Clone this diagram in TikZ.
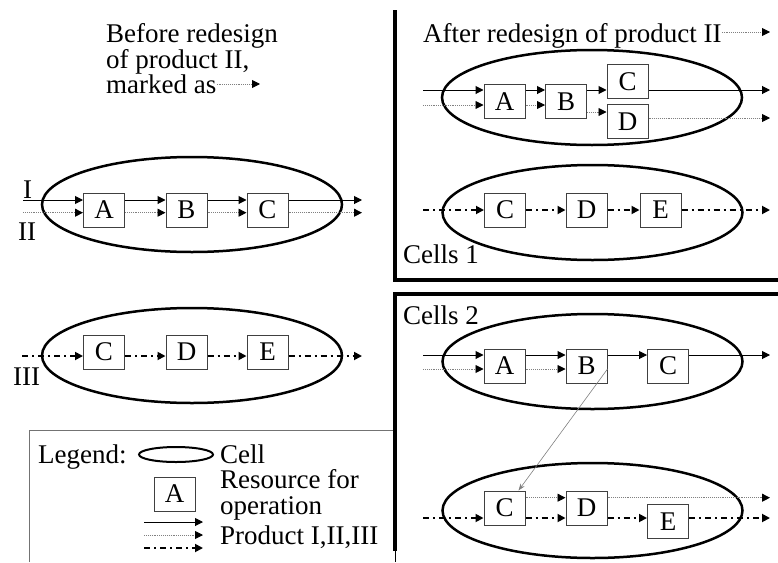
\documentclass[tikz,border=0pt]{standalone}
\usepackage{fontspec}
\setmainfont{Liberation Serif}
\usetikzlibrary{shapes.geometric, arrows.meta}
\tikzstyle{arrowI} = [line width=1pt, -{Triangle[length=8pt,width=8pt]}]
\tikzstyle{arrowII} = [line width=0.9pt, black!50, densely dotted, -{Triangle[length=8pt,width=8pt,color=black]}]
\tikzstyle{arrowIII} = [line width=1.8pt, dash pattern=on 6pt off 4pt on 2pt off 4pt, -{Triangle[length=8pt,width=8pt]}]
\tikzstyle{moveArrow} = [line width=0.6pt, black!50, -{Stealth[length=7pt,width=5pt]}]
\tikzstyle{cell} = [ellipse, draw=black, line width=2.5pt, minimum width=300pt, minimum height=95pt, inner sep=0pt]
\tikzstyle{res} = [rectangle, draw=black!75, line width=1pt, minimum width=41pt, minimum height=34pt, inner sep=0pt, fill=white]
\tikzstyle{txt} = [anchor=base west, inner sep=0pt]
\tikzstyle{frame} = [line width=4pt]

\begin{document}
\begin{tikzpicture}[x=1pt, y=-1pt, font=\fontsize{27}{27}\selectfont]
				\useasboundingbox (0,0) rectangle (778,562);

				% legend frame (under the thick lines)
				\draw [black!55, line width=1pt] (29,562) -- (29,430) -- (395,430);
				% frames of cells 1 and cells 2
				\draw [frame] (395,10) -- (395,280) -- (778,280);
				\draw [frame] (778,294) -- (395,294) -- (395,551);
				\draw [line width=1pt] (395,551) -- (395,562);

				% before redesign
				\node (before1) [txt] at (106,42) {Before redesign};
				\node (before2) [txt] at (106,68) {of product II,};
				\node (before3) [txt] at (106,93) {marked as};
				\coordinate (markTip) at (260,84);
				\draw [arrowII] (before3.east |- markTip) -- (markTip);

				\node (cellB1) [cell] at (192,204.5) {};
				\node (a1) [res] at (104,210) {A};
				\node (b1) [res] at (186.5,210) {B};
				\node (c1) [res] at (267.5,210) {C};
				\node (labI) [txt] at (23,198) {I};
				\node (labII) [txt] at (18,240) {II};
				\coordinate (inI1) at (23,200);
				\coordinate (outI1) at (362,200);
				\coordinate (inII1) at (23,212.7);
				\coordinate (outII1) at (362,212.7);
				\draw [arrowI] (inI1) -- (inI1 -| a1.west);
				\draw [arrowI] (inI1 -| a1.east) -- (inI1 -| b1.west);
				\draw [arrowI] (inI1 -| b1.east) -- (inI1 -| c1.west);
				\draw [arrowI] (inI1 -| c1.east) -- (outI1);
				\draw [arrowII] (inII1) -- (inII1 -| a1.west);
				\draw [arrowII] (inII1 -| a1.east) -- (inII1 -| b1.west);
				\draw [arrowII] (inII1 -| b1.east) -- (inII1 -| c1.west);
				\draw [arrowII] (inII1 -| c1.east) -- (outII1);

				\node (cellB2) [cell] at (192,355.5) {};
				\node (c2) [res] at (104,352) {C};
				\node (d2) [res] at (186.5,352) {D};
				\node (e2) [res] at (267.5,352) {E};
				\node (labIII) [txt] at (13,385) {III};
				\coordinate (inIII2) at (22,356);
				\coordinate (outIII2) at (362,356);
				\draw [arrowIII] (inIII2) -- (inIII2 -| c2.west);
				\draw [arrowIII] (inIII2 -| c2.east) -- (inIII2 -| d2.west);
				\draw [arrowIII] (inIII2 -| d2.east) -- (inIII2 -| e2.west);
				\draw [arrowIII] (inIII2 -| e2.east) -- (outIII2);

				% after redesign, cells 1
				\node (after) [txt] at (423,42) {After redesign of product II};
				\coordinate (afterTip) at (770,32);
				\draw [arrowII] (after.east |- afterTip) -- (afterTip);

				\node (cellA1) [cell] at (592,97.5) {};
				\node (a3) [res] at (504.5,101.5) {A};
				\node (b3) [res] at (566,101.5) {B};
				\node (c3) [res] at (627.5,81.5) {C};
				\node (d3) [res] at (627.5,121.5) {D};
				\coordinate (inI3) at (423,90);
				\coordinate (outI3) at (770,90);
				\coordinate (inII3) at (423,105);
				\coordinate (midII3) at (600,112);
				\coordinate (outII3) at (770,118);
				\draw [arrowI] (inI3) -- (inI3 -| a3.west);
				\draw [arrowI] (inI3 -| a3.east) -- (inI3 -| b3.west);
				\draw [arrowI] (inI3 -| b3.east) -- (inI3 -| c3.west);
				\draw [arrowI] (inI3 -| c3.east) -- (outI3);
				\draw [arrowII] (inII3) -- (inII3 -| a3.west);
				\draw [arrowII] (inII3 -| a3.east) -- (inII3 -| b3.west);
				\draw [arrowII] (midII3 -| b3.east) -- (midII3 -| d3.west);
				\draw [arrowII] (outII3 -| d3.east) -- (outII3);

				\node (cellA2) [cell] at (592.5,212.5) {};
				\node (c4) [res] at (505,210) {C};
				\node (d4) [res] at (586.5,210) {D};
				\node (e4) [res] at (660.5,210) {E};
				\coordinate (inIII4) at (423,210);
				\coordinate (outIII4) at (770,210);
				\draw [arrowIII] (inIII4) -- (inIII4 -| c4.west);
				\draw [arrowIII] (inIII4 -| c4.east) -- (inIII4 -| d4.west);
				\draw [arrowIII] (inIII4 -| d4.east) -- (inIII4 -| e4.west);
				\draw [arrowIII] (inIII4 -| e4.east) -- (outIII4);
				\node (cells1) [txt] at (403,263) {Cells 1};

				% cells 2
				\node (cells2) [txt] at (403,324) {Cells 2};
				\node (cellA3) [cell] at (592.5,361.5) {};
				\node (a5) [res] at (504.5,366) {A};
				\node (b5) [res] at (586.5,366) {B};
				\node (c5) [res] at (668,366) {C};
				\coordinate (inI5) at (423,355);
				\coordinate (outI5) at (770,355);
				\coordinate (inII5) at (423,369);
				\draw [arrowI] (inI5) -- (inI5 -| a5.west);
				\draw [arrowI] (inI5 -| a5.east) -- (inI5 -| b5.west);
				\draw [arrowI] (inI5 -| b5.east) -- (inI5 -| c5.west);
				\draw [arrowI] (inI5 -| c5.east) -- (outI5);
				\draw [arrowII] (inII5) -- (inII5 -| a5.west);
				\draw [arrowII] (inII5 -| a5.east) -- (inII5 -| b5.west);

				\node (cellA4) [cell] at (592.5,510.5) {};
				\node (c6) [res] at (504.5,508) {C};
				\node (d6) [res] at (586.5,508) {D};
				\node (e6) [res] at (668,521.5) {E};
				\coordinate (inII6) at (423,497.7);
				\coordinate (outII6) at (770,497.7);
				\coordinate (inIII6) at (423,518);
				\coordinate (outIII6) at (770,518);
				\draw [arrowII] (inII6 -| c6.east) -- (inII6 -| d6.west);
				\draw [arrowII] (inII6 -| d6.east) -- (outII6);
				\draw [arrowIII] (inIII6) -- (inIII6 -| c6.west);
				\draw [arrowIII] (inIII6 -| c6.east) -- (inIII6 -| d6.west);
				\draw [arrowIII] (inIII6 -| d6.east) -- (inIII6 -| e6.west);
				\draw [arrowIII] (inIII6 -| e6.east) -- (outIII6);
				\draw [moveArrow] (b5.east |- inII5) -- ([xshift=-7pt]c6.north east);

				% legend
				\node (legend) [txt] at (38,463) {Legend:};
				\node (legCell) [cell, line width=2pt, minimum width=74pt, minimum height=15pt] at (176,454.5) {};
				\node (legCellTxt) [txt] at (220,463) {Cell};
				\node (legRes) [res] at (174.5,494) {A};
				\node (legResTxt1) [txt] at (220,488) {Resource for};
				\node (legResTxt2) [txt] at (220,514) {operation};
				\coordinate (legI) at (144,522);
				\coordinate (legII) at (144,535);
				\coordinate (legIII) at (144,548);
				\draw [arrowI] (legI) -- ++(59,0);
				\draw [arrowII] (legII) -- ++(59,0);
				\draw [arrowIII] (legIII) -- ++(59,0);
				\node (legProd) [txt] at (220,544) {Product I,II,III};
			\end{tikzpicture}
\end{document}
